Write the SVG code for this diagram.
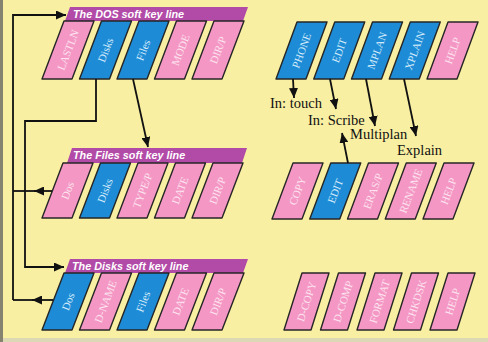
<svg xmlns="http://www.w3.org/2000/svg" width="488" height="342" viewBox="0 0 488 342">
<style>
.pk{fill:#f497c4;stroke:#262626;stroke-width:1.4;stroke-linejoin:round}
.bl{fill:#1d8bd6;stroke:#262626;stroke-width:1.4;stroke-linejoin:round}
.ban{fill:#b24aa7}
.bt{font-family:"Liberation Sans",Arial,sans-serif;font-weight:bold;font-style:italic;font-size:10.8px;fill:#ffffff}
.kt{font-family:"Liberation Serif","Times New Roman",serif;font-size:11px;text-anchor:middle}
.kp{fill:#fde3ef}
.kb{fill:#d6ebfa}
.lb{font-family:"Liberation Serif","Times New Roman",serif;font-size:14.5px;fill:#111}
.cn{fill:none;stroke:#111;stroke-width:1.8}
</style>
<defs>
<marker id="ah" viewBox="0 0 10 9" refX="10" refY="4.5" markerWidth="10" markerHeight="9" markerUnits="userSpaceOnUse" orient="auto">
<path d="M0,0 L10,4.5 L0,9 z" fill="#111"/>
</marker>
</defs>
<rect width="488" height="342" fill="#f8efa2"/>
<rect x="0" y="0" width="3" height="342" fill="#85826f"/>
<rect x="3" y="338" width="485" height="4" fill="#dcd8b6"/>

<!-- DOS soft key line -->
<g id="dos-banner"><polygon class="ban" points="70,7 248,7 243,21 65,21"/><text class="bt" x="73" y="18">The DOS soft key line</text></g>
<g id="dos-lastln"><polygon class="pk" points="42,79 72,79 94,21 64,21"/><text class="kt kp" transform="translate(68,50) rotate(-69)" dy="0.35em">LASTLN</text></g>
<g id="dos-disks"><polygon class="bl" points="79.5,79 109.5,79 131.5,21 101.5,21"/><text class="kt kb" transform="translate(105.5,50) rotate(-69)" dy="0.35em">Disks</text></g>
<g id="dos-files"><polygon class="bl" points="117,79 147,79 169,21 139,21"/><text class="kt kb" transform="translate(143,50) rotate(-69)" dy="0.35em">Files</text></g>
<g id="dos-mode"><polygon class="pk" points="154.5,79 184.5,79 206.5,21 176.5,21"/><text class="kt kp" transform="translate(180.5,50) rotate(-69)" dy="0.35em">MODE</text></g>
<g id="dos-dirp"><polygon class="pk" points="192,79 222,79 244,21 214,21"/><text class="kt kp" transform="translate(218,50) rotate(-69)" dy="0.35em">DIR/P</text></g>

<!-- Files soft key line -->
<g id="files-banner"><polygon class="ban" points="72,148 247,148 242,163 67,163"/><text class="bt" x="73" y="159">The Files soft key line</text></g>
<g id="files-dos"><polygon class="pk" points="42,218 72,218 93,163 63,163"/><text class="kt kp" transform="translate(67.5,190.5) rotate(-69)" dy="0.35em">Dos</text></g>
<g id="files-disks"><polygon class="bl" points="79.5,218 109.5,218 130.5,163 100.5,163"/><text class="kt kb" transform="translate(105,190.5) rotate(-69)" dy="0.35em">Disks</text></g>
<g id="files-typep"><polygon class="pk" points="117,218 147,218 168,163 138,163"/><text class="kt kp" transform="translate(142.5,190.5) rotate(-69)" dy="0.35em">TYPE/P</text></g>
<g id="files-date"><polygon class="pk" points="154.5,218 184.5,218 205.5,163 175.5,163"/><text class="kt kp" transform="translate(180,190.5) rotate(-69)" dy="0.35em">DATE</text></g>
<g id="files-dirp"><polygon class="pk" points="192,218 222,218 243,163 213,163"/><text class="kt kp" transform="translate(217.5,190.5) rotate(-69)" dy="0.35em">DIR/P</text></g>

<!-- Disks soft key line -->
<g id="disks-banner"><polygon class="ban" points="70,259 248,259 243,273 65,273"/><text class="bt" x="72" y="270">The Disks soft key line</text></g>
<g id="disks-dos"><polygon class="bl" points="42,330 72,330 94,273 64,273"/><text class="kt kb" transform="translate(68,301.5) rotate(-69)" dy="0.35em">Dos</text></g>
<g id="disks-dname"><polygon class="pk" points="79.5,330 109.5,330 131.5,273 101.5,273"/><text class="kt kp" transform="translate(105.5,301.5) rotate(-69)" dy="0.35em">D-NAME</text></g>
<g id="disks-files"><polygon class="bl" points="117,330 147,330 169,273 139,273"/><text class="kt kb" transform="translate(143,301.5) rotate(-69)" dy="0.35em">Files</text></g>
<g id="disks-date"><polygon class="pk" points="154.5,330 184.5,330 206.5,273 176.5,273"/><text class="kt kp" transform="translate(180.5,301.5) rotate(-69)" dy="0.35em">DATE</text></g>
<g id="disks-dirp"><polygon class="pk" points="192,330 222,330 244,273 214,273"/><text class="kt kp" transform="translate(218,301.5) rotate(-69)" dy="0.35em">DIR/P</text></g>

<!-- Right: top row -->
<g id="r1-phone"><polygon class="bl" points="276,79 306,79 327,22 297,22"/><text class="kt kb" transform="translate(301.5,50.5) rotate(-70)" dy="0.35em">PHONE</text></g>
<g id="r1-edit"><polygon class="bl" points="313.75,79 343.75,79 364.75,22 334.75,22"/><text class="kt kb" transform="translate(339.25,50.5) rotate(-70)" dy="0.35em">EDIT</text></g>
<g id="r1-mplan"><polygon class="bl" points="351.5,79 381.5,79 402.5,22 372.5,22"/><text class="kt kb" transform="translate(377,50.5) rotate(-70)" dy="0.35em">MPLAN</text></g>
<g id="r1-xplain"><polygon class="bl" points="389.25,79 419.25,79 440.25,22 410.25,22"/><text class="kt kb" transform="translate(414.75,50.5) rotate(-70)" dy="0.35em">XPLAIN</text></g>
<g id="r1-help"><polygon class="pk" points="427,79 457,79 478,22 448,22"/><text class="kt kp" transform="translate(452.5,50.5) rotate(-70)" dy="0.35em">HELP</text></g>

<!-- Right: middle row -->
<g id="r2-copy"><polygon class="pk" points="272,219 302,219 323,163 293,163"/><text class="kt kp" transform="translate(297.5,191) rotate(-69)" dy="0.35em">COPY</text></g>
<g id="r2-edit"><polygon class="bl" points="309.75,219 339.75,219 360.75,163 330.75,163"/><text class="kt kb" transform="translate(335.25,191) rotate(-69)" dy="0.35em">EDIT</text></g>
<g id="r2-erasp"><polygon class="pk" points="347.5,219 377.5,219 398.5,163 368.5,163"/><text class="kt kp" transform="translate(373,191) rotate(-69)" dy="0.35em">ERAS/P</text></g>
<g id="r2-rename"><polygon class="pk" points="385.25,219 415.25,219 436.25,163 406.25,163"/><text class="kt kp" transform="translate(410.75,191) rotate(-69)" dy="0.35em">RENAME</text></g>
<g id="r2-help"><polygon class="pk" points="423,219 453,219 474,163 444,163"/><text class="kt kp" transform="translate(448.5,191) rotate(-69)" dy="0.35em">HELP</text></g>

<!-- Right: bottom row -->
<g id="r3-dcopy"><polygon class="pk" points="284,330 311,330 329,273 302,273"/><text class="kt kp" transform="translate(306.5,301.5) rotate(-72)" dy="0.35em">D-COPY</text></g>
<g id="r3-dcomp"><polygon class="pk" points="320.5,330 347.5,330 365.5,273 338.5,273"/><text class="kt kp" transform="translate(343,301.5) rotate(-72)" dy="0.35em">D-COMP</text></g>
<g id="r3-format"><polygon class="pk" points="357,330 384,330 402,273 375,273"/><text class="kt kp" transform="translate(379.5,301.5) rotate(-72)" dy="0.35em">FORMAT</text></g>
<g id="r3-chkdsk"><polygon class="pk" points="393.5,330 420.5,330 438.5,273 411.5,273"/><text class="kt kp" transform="translate(416,301.5) rotate(-72)" dy="0.35em">CHKDSK</text></g>
<g id="r3-help"><polygon class="pk" points="430,330 457,330 475,273 448,273"/><text class="kt kp" transform="translate(452.5,301.5) rotate(-72)" dy="0.35em">HELP</text></g>

<!-- Labels -->
<g id="lbl-touch"><text class="lb" x="270" y="108">In: touch</text></g>
<g id="lbl-scribe"><text class="lb" x="308" y="125">In: Scribe</text></g>
<g id="lbl-multiplan"><text class="lb" x="350" y="139">Multiplan</text></g>
<g id="lbl-explain"><text class="lb" x="397" y="155">Explain</text></g>

<!-- Connectors -->
<g id="connectors">
<path class="cn" d="M13,300 L13,15 L66,15" marker-end="url(#ah)"/>
<path class="cn" d="M96,79 L96,121 L25,121 L25,267 L64,267" marker-end="url(#ah)"/>
<path class="cn" d="M133,79 L148,147" marker-end="url(#ah)"/>
<path class="cn" d="M36,191 L13,191"/>
<path class="cn" d="M52,191 L34,191" marker-end="url(#ah)"/>
<path class="cn" d="M34,300 L13,300"/>
<path class="cn" d="M53,300 L32,300" marker-end="url(#ah)"/>
<path class="cn" d="M293,79 L294,98" marker-end="url(#ah)"/>
<path class="cn" d="M330,79 L336,109" marker-end="url(#ah)"/>
<path class="cn" d="M366,79 L375,126" marker-end="url(#ah)"/>
<path class="cn" d="M404,79 L416,136" marker-end="url(#ah)"/>
<path class="cn" d="M348,163 L342,133" marker-end="url(#ah)"/>
</g>
</svg>
